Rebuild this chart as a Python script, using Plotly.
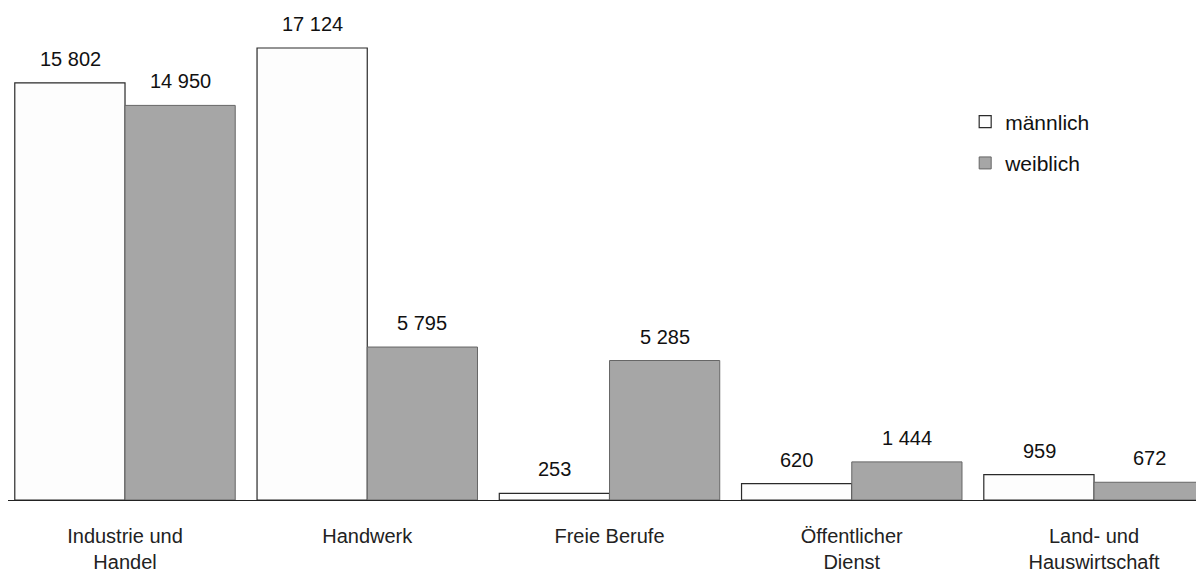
import plotly.graph_objects as go

categories = ["Industrie und<br>Handel", "Handwerk", "Freie Berufe", "Öffentlicher<br>Dienst", "Land- und<br>Hauswirtschaft"]
maennlich = [15802, 17124, 253, 620, 959]
weiblich = [14950, 5795, 5285, 1444, 672]
series_names = ["männlich", "weiblich"]

def fmt(v):
    return f"{v:,}".replace(",", " ")

font_family = "Liberation Sans, Arial, sans-serif"
BAR_HALF = 55  # half bar width in px, for label placement

fig = go.Figure()
fig.add_trace(go.Bar(
    x=categories, y=maennlich, name=series_names[0],
    marker=dict(color="#fdfdfd", line=dict(color="#2a2a2a", width=1.2)),
    legendgroup="m",
))
fig.add_trace(go.Bar(
    x=categories, y=weiblich, name=series_names[1],
    marker=dict(color="#a6a6a6", line=dict(color="#666", width=1)),
    legendgroup="w",
))

annotations = []
for vals, shift in ((maennlich, -BAR_HALF), (weiblich, BAR_HALF)):
    for c, v in zip(categories, vals):
        annotations.append(dict(
            x=c, y=v, xref="x", yref="y", text=fmt(v), showarrow=False,
            xshift=shift, yshift=11, yanchor="bottom", xanchor="center",
            font=dict(size=20, color="#111", family=font_family),
        ))

fig.update_layout(
    width=1204, height=576,
    margin=dict(l=0, r=0, t=0, b=84),
    paper_bgcolor="white", plot_bgcolor="white",
    barmode="group", bargap=0.09, bargroupgap=0,
    font=dict(family=font_family, size=20, color="#111"),
    legend=dict(x=0.795, y=0.81, xanchor="left", yanchor="top",
                font=dict(size=21, color="#111"), tracegroupgap=11,
                bgcolor="rgba(0,0,0,0)", itemwidth=30),
    showlegend=True,
    annotations=annotations,
)
fig.update_xaxes(range=[-0.483, 4.487], showline=True, linecolor="#222", linewidth=1.2,
                 ticks="", showgrid=False, ticklabelstandoff=18, automargin=False,
                 tickfont=dict(size=20, color="#222"))
fig.update_yaxes(range=[0, 18640], visible=False, showgrid=False, zeroline=False)

fig.write_html("out.html")
